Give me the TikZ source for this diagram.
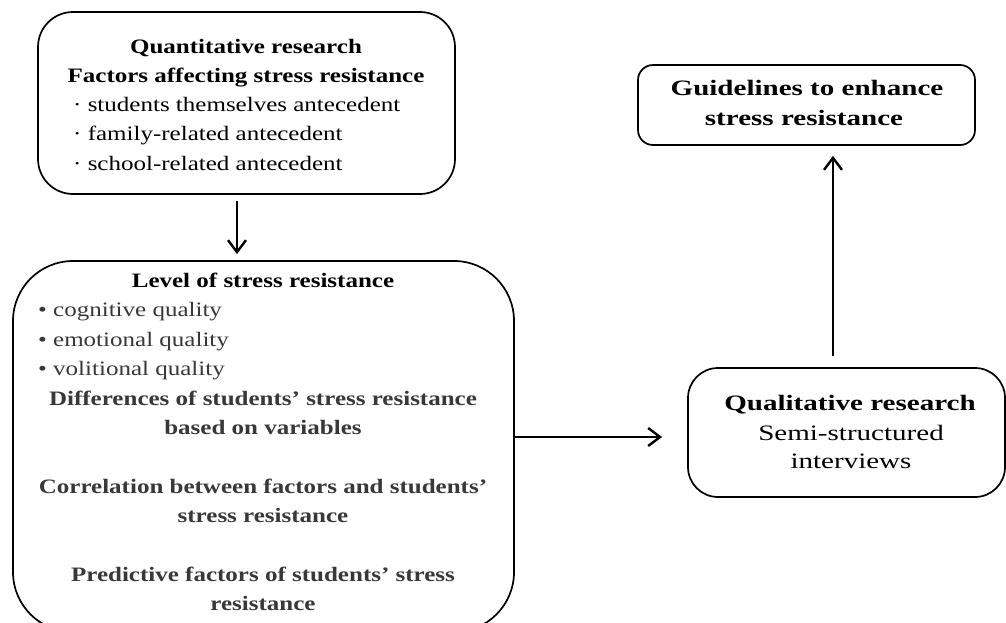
\documentclass[tikz,border=0pt]{standalone}
\usepackage{fontspec}
\setmainfont{Liberation Serif}[FakeStretch=1.22]
\newfontfamily\widefont{Liberation Serif}[FakeStretch=1.32]
\usetikzlibrary{arrows.meta,calc}
\definecolor{softtext}{gray}{0.22}
\tikzset{
  box/.style={draw, line width=1.7pt, inner sep=0pt},
  txt/.style={inner sep=0pt, font=\fontsize{20.5}{29.4}\selectfont},
  btxt/.style={txt, font=\fontsize{20.5}{29.4}\selectfont\bfseries},
  wtxt/.style={inner sep=0pt, font=\widefont\fontsize{22}{30}\selectfont},
  bwtxt/.style={inner sep=0pt, font=\widefont\fontsize{22}{30}\selectfont\bfseries},
  arr/.style={line width=2.4pt, -{Straight Barb[length=12pt,width=18pt,line width=2.4pt]}}
}
\begin{document}
\begin{tikzpicture}[x=1pt,y=-1pt]
\clip (0,0) rectangle (1006,623);
% boxes
\node[box, rounded corners=35pt, minimum width=417pt, minimum height=182pt] (quant) at (246.5,103) {};
\node[box, rounded corners=60pt, minimum width=501pt, minimum height=371pt] (lev) at (263.5,446.5) {};
\node[box, rounded corners=30pt, minimum width=317pt, minimum height=129pt] (qual) at (846.5,432.5) {};
\node[box, rounded corners=15pt, minimum width=337pt, minimum height=80pt] (guide) at (806.5,105) {};
% box 1 text
\node[btxt, anchor=base] (q1) at (246,54) {Quantitative research};
\node[btxt, anchor=base] (q2) at (246,83) {Factors affecting stress resistance};
\node[txt, anchor=base west] (q3) at (73,112) {· students themselves antecedent};
\node[txt, anchor=base west] (q4) at (73,141) {· family-related antecedent};
\node[txt, anchor=base west] (q5) at (73,170) {· school-related antecedent};
% box 2 text
\node[btxt, anchor=base] (l1) at (263,287) {Level of stress resistance};
\node[txt, text=softtext, anchor=base west] (l2) at (38,316.5) {• cognitive quality};
\node[txt, text=softtext, anchor=base west] (l3) at (38,346) {• emotional quality};
\node[txt, text=softtext, anchor=base west] (l4) at (38,375) {• volitional quality};
\node[btxt, text=softtext, anchor=base] (l5) at (263,405) {Differences of students’ stress resistance};
\node[btxt, text=softtext, anchor=base] (l6) at (263,434) {based on variables};
\node[btxt, text=softtext, anchor=base] (l7) at (263,493) {Correlation between factors and students’};
\node[btxt, text=softtext, anchor=base] (l8) at (263,522) {stress resistance};
\node[btxt, text=softtext, anchor=base] (l9) at (263,581.5) {Predictive factors of students’ stress};
\node[btxt, text=softtext, anchor=base] (l10) at (263,610) {resistance};
% qualitative
\node[bwtxt, anchor=base] (r1) at (850,410) {Qualitative research};
\node[wtxt, anchor=base] (r2) at (851,440) {Semi-structured};
\node[wtxt, anchor=base] (r3) at (851,468) {interviews};
% guidelines
\node[bwtxt, anchor=base] (g1) at (807,96) {Guidelines to enhance};
\node[bwtxt, anchor=base] (g2) at (804,126) {stress resistance};
% arrows
\draw[arr, shorten <=6pt, shorten >=6pt] ([xshift=-9.5pt]quant.south) -- ([xshift=-9.5pt]quant.south |- lev.north);
\draw[arr, shorten >=25pt] ([yshift=9.5pt]lev.east) -- ([yshift=9.5pt]lev.east -| qual.west);
\draw[arr, shorten <=11pt, shorten >=10pt] ([xshift=-13.5pt]qual.north) -- ([xshift=-13.5pt]qual.north |- guide.south);
\end{tikzpicture}
\end{document}
